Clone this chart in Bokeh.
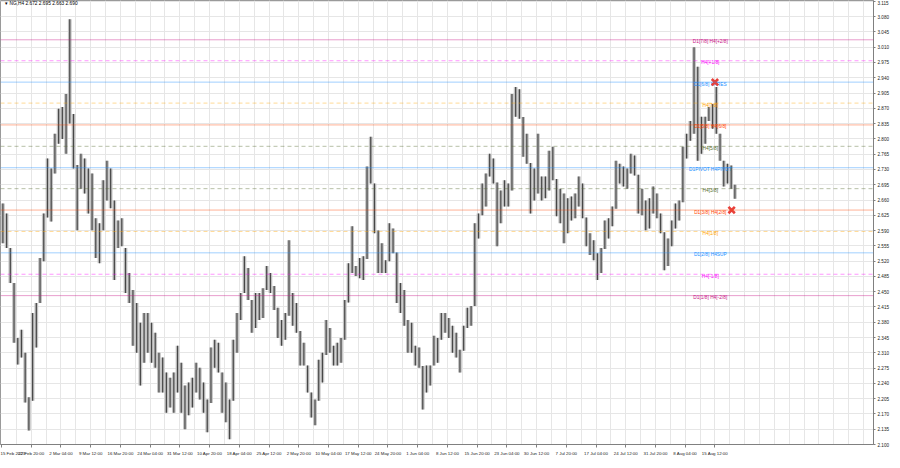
import numpy as np
from bokeh.plotting import figure
from bokeh.models import Range1d, FixedTicker, Label, NumeralTickFormatter, Span, ColumnDataSource
from bokeh.embed import file_html
from bokeh.resources import INLINE
from bokeh.core.properties import value

FONT = "Liberation Sans"

# ---- price data: each column summarises 4 consecutive H4 bars (high / low) ----
BARS_PER_COLUMN = 4
highs = [2.652, 2.629, 2.550, 2.470, 2.344, 2.363, 2.310, 2.208, 2.401, 2.424,
         2.527, 2.629, 2.755, 2.732, 2.812, 2.869, 2.873, 2.903, 3.074, 2.857,
         2.740, 2.766, 2.755, 2.732, 2.721, 2.618, 2.607, 2.705, 2.750, 2.732,
         2.659, 2.613, 2.618, 2.550, 2.493, 2.454, 2.424, 2.379, 2.401, 2.401,
         2.379, 2.356, 2.310, 2.299, 2.265, 2.253, 2.265, 2.326, 2.287, 2.235,
         2.242, 2.253, 2.287, 2.276, 2.242, 2.203, 2.322, 2.340, 2.333, 2.265,
         2.242, 2.203, 2.340, 2.401, 2.447, 2.531, 2.504, 2.431, 2.447, 2.447,
         2.458, 2.509, 2.493, 2.463, 2.413, 2.385, 2.401, 2.568, 2.447, 2.424,
         2.360, 2.333, 2.281, 2.219, 2.203, 2.294, 2.310, 2.385, 2.367, 2.326,
         2.333, 2.344, 2.431, 2.515, 2.600, 2.509, 2.527, 2.531, 2.737, 2.805,
         2.698, 2.590, 2.561, 2.522, 2.607, 2.595, 2.540, 2.470, 2.454, 2.385,
         2.379, 2.326, 2.322, 2.280, 2.281, 2.281, 2.349, 2.344, 2.401, 2.401,
         2.390, 2.372, 2.356, 2.317, 2.372, 2.413, 2.417, 2.607, 2.629, 2.698,
         2.721, 2.766, 2.755, 2.700, 2.682, 2.705, 2.698, 2.903, 2.919, 2.914,
         2.850, 2.812, 2.745, 2.732, 2.812, 2.714, 2.714, 2.773, 2.782, 2.708,
         2.686, 2.675, 2.664, 2.668, 2.675, 2.714, 2.698, 2.620, 2.584, 2.568,
         2.538, 2.550, 2.613, 2.618, 2.645, 2.750, 2.743, 2.737, 2.732, 2.766,
         2.762, 2.718, 2.686, 2.659, 2.664, 2.691, 2.675, 2.629, 2.586, 2.572,
         2.613, 2.652, 2.659, 2.782, 2.812, 2.841, 3.010, 2.965, 2.851, 2.851,
         2.873, 2.880, 2.919, 2.812, 2.750, 2.743, 2.739, 2.695]
lows = [2.561, 2.550, 2.470, 2.333, 2.283, 2.299, 2.196, 2.132, 2.200, 2.322,
        2.424, 2.520, 2.620, 2.611, 2.721, 2.789, 2.800, 2.766, 2.835, 2.732,
        2.591, 2.686, 2.675, 2.629, 2.591, 2.527, 2.515, 2.591, 2.659, 2.641,
        2.477, 2.550, 2.554, 2.447, 2.424, 2.326, 2.310, 2.235, 2.287, 2.310,
        2.287, 2.276, 2.219, 2.219, 2.173, 2.185, 2.173, 2.219, 2.173, 2.135,
        2.167, 2.185, 2.219, 2.203, 2.173, 2.128, 2.195, 2.276, 2.265, 2.173,
        2.151, 2.112, 2.200, 2.310, 2.385, 2.447, 2.431, 2.356, 2.367, 2.385,
        2.390, 2.454, 2.447, 2.408, 2.344, 2.326, 2.340, 2.395, 2.372, 2.356,
        2.281, 2.281, 2.219, 2.162, 2.144, 2.200, 2.242, 2.305, 2.310, 2.281,
        2.281, 2.287, 2.340, 2.425, 2.493, 2.486, 2.481, 2.477, 2.525, 2.698,
        2.584, 2.493, 2.493, 2.493, 2.520, 2.538, 2.424, 2.401, 2.372, 2.310,
        2.310, 2.281, 2.276, 2.180, 2.219, 2.235, 2.281, 2.287, 2.340, 2.356,
        2.344, 2.310, 2.299, 2.265, 2.315, 2.367, 2.372, 2.417, 2.572, 2.625,
        2.645, 2.714, 2.698, 2.554, 2.607, 2.645, 2.645, 2.682, 2.851, 2.846,
        2.759, 2.743, 2.629, 2.659, 2.675, 2.659, 2.664, 2.682, 2.705, 2.623,
        2.607, 2.561, 2.584, 2.613, 2.618, 2.645, 2.618, 2.554, 2.534, 2.522,
        2.477, 2.493, 2.548, 2.572, 2.600, 2.640, 2.698, 2.691, 2.686, 2.721,
        2.716, 2.629, 2.625, 2.591, 2.595, 2.629, 2.618, 2.584, 2.499, 2.509,
        2.554, 2.595, 2.613, 2.655, 2.755, 2.796, 2.812, 2.750, 2.766, 2.789,
        2.841, 2.823, 2.812, 2.750, 2.691, 2.698, 2.686, 2.663]

# ---- time axis labels (one every 32 H4 bars) ----
BARS_PER_LABEL = 32
date_labels = ["15 Feb 2023", "22 Feb 20:00", "2 Mar 04:00", "9 Mar 12:00", "16 Mar 20:00",
               "24 Mar 04:00", "31 Mar 12:00", "10 Apr 20:00", "18 Apr 04:00", "25 Apr 12:00",
               "2 May 20:00", "10 May 04:00", "17 May 12:00", "24 May 20:00", "1 Jun 04:00",
               "8 Jun 12:00", "15 Jun 20:00", "23 Jun 04:00", "30 Jun 12:00", "7 Jul 20:00",
               "17 Jul 04:00", "24 Jul 12:00", "31 Jul 20:00", "8 Aug 04:00", "15 Aug 12:00"]

# ---- price axis ticks ----
price_ticks = [2.100, 2.135, 2.170, 2.205, 2.240, 2.275, 2.310, 2.345, 2.380, 2.415,
               2.450, 2.485, 2.520, 2.555, 2.590, 2.625, 2.660, 2.695, 2.730, 2.765,
               2.800, 2.835, 2.870, 2.905, 2.940, 2.975, 3.010, 3.045, 3.080, 3.115]

# ---- Murrey levels ----
levels = [3.027, 2.979, 2.930, 2.882, 2.832, 2.783, 2.734, 2.686, 2.637, 2.588, 2.539, 2.490, 2.441]
level_names = ["D1[7/8] H4[+2/8]", "H4[+1/8]", "D1[6/8] H4RES", "H4[7/8]", "D1[5/8] H4[6/8]",
               "H4[5/8]", "D1PIVOT H4PIVOT", "H4[3/8]", "D1[3/8] H4[2/8]", "H4[1/8]",
               "D1[2/8] H4SUP", "H4[-1/8]", "D1[1/8] H4[-2/8]"]
level_colors = ["#C71585", "#FF00FF", "#1E90FF", "#FFA500", "#FF4500", "#556B2F", "#1E90FF",
                "#556B2F", "#FF4500", "#FFA500", "#1E90FF", "#FF00FF", "#C71585"]
level_dashed = [False, True, False, True, False, True, False, True, False, True, False, True, False]
LEVEL_LABEL_BAR = 763

current_price = 2.690
title_text = "\u25BE NG,H4  2.672 2.695 2.663 2.690"

signal_bars = [768, 786]
signal_prices = [2.930, 2.637]

# ---------------------------------------------------------------
X_END = 938.7
p = figure(frame_width=873, frame_height=444, x_range=Range1d(-1.07, X_END),
           y_range=Range1d(2.100, 3.117),
           output_backend="svg", toolbar_location=None, y_axis_location="right",
           min_border_left=0, min_border_top=0, min_border_right=17, min_border_bottom=14,
           background_fill_color="white", border_fill_color="white")
p.outline_line_color = "#9a9a9a"

# grids
p.ygrid.ticker = FixedTicker(ticks=price_ticks)
p.xgrid.ticker = FixedTicker(ticks=list(range(16, 940, 16)))
for g in (p.xgrid, p.ygrid):
    g.grid_line_color = "#e6e6e6"
    g.grid_line_width = 1

# bottom axis
xa = p.xaxis[0]
xa.ticker = FixedTicker(ticks=[i * BARS_PER_LABEL for i in range(len(date_labels))])
xa.major_label_overrides = {i * BARS_PER_LABEL: t for i, t in enumerate(date_labels)}
xa.major_label_text_align = "left"
xa.major_label_text_font = FONT
xa.major_label_text_font_size = "4.4px"
xa.major_label_text_color = "#222222"
xa.major_label_standoff = 3
xa.major_tick_in = 0
xa.major_tick_out = 3
xa.minor_tick_out = 0
xa.minor_tick_in = 0
xa.axis_line_color = "#808080"
xa.major_tick_line_color = "#808080"

# right axis
ya = p.yaxis[0]
ya.ticker = FixedTicker(ticks=price_ticks)
ya.formatter = NumeralTickFormatter(format="0.000")
ya.major_label_text_font = FONT
ya.major_label_text_font_size = "4.6px"
ya.major_label_text_color = "#222222"
ya.major_label_standoff = 2
ya.major_tick_in = 0
ya.major_tick_out = 2
ya.minor_tick_in = 0
ya.minor_tick_out = 0
ya.axis_line_color = "#808080"
ya.major_tick_line_color = "#808080"

# level lines
for lv, c, d in zip(levels, level_colors, level_dashed):
    p.add_layout(Span(location=lv, dimension="width", line_color=c, line_width=1,
                      line_alpha=0.42, line_dash="4 3" if d else "solid"))

# price bars: light range band plus dark bar line
col_x = np.arange(len(highs)) * BARS_PER_COLUMN + (BARS_PER_COLUMN - 1) / 2
src = ColumnDataSource(dict(x=col_x, hi=highs, lo=lows))
p.vbar(x="x", bottom="lo", top="hi", width=BARS_PER_COLUMN, source=src,
       fill_color="#c2c2c2", line_color=None)
p.segment(x0="x", y0="lo", x1="x", y1="hi", source=src, line_color="#474747", line_width=1.2)

# level labels
lsrc = ColumnDataSource(dict(x=[LEVEL_LABEL_BAR] * len(levels), y=levels, t=level_names, c=level_colors))
p.text(x="x", y="y", text="t", text_color="c", source=lsrc, text_align="center",
       text_baseline="middle", text_font=value(FONT), text_font_size="4.8px", y_offset=2)

# signal crosses
p.scatter(x=signal_bars, y=signal_prices, marker="x", size=9, line_color="#E8403A", line_width=2.6)

# price tags on the right axis
for lv, c in zip(levels, level_colors):
    p.add_layout(Label(x=X_END, y=lv, text=f"{lv:.3f}", x_offset=1, text_align="left",
                       text_baseline="middle", text_color="white", text_font=FONT,
                       text_font_size="4.6px", background_fill_color=c, padding=2))
p.add_layout(Label(x=X_END, y=current_price, text=f"{current_price:.3f}", x_offset=1,
                   text_align="left", text_baseline="middle", text_color="white",
                   text_font=FONT, text_font_size="4.6px", background_fill_color="#000000",
                   padding=2))

# title
p.add_layout(Label(x=4, y=3.116, text=title_text, text_align="left", text_baseline="top",
                   text_color="#000000", text_font=FONT, text_font_size="4.8px"))

open("out.html", "w").write(file_html(p, INLINE))
